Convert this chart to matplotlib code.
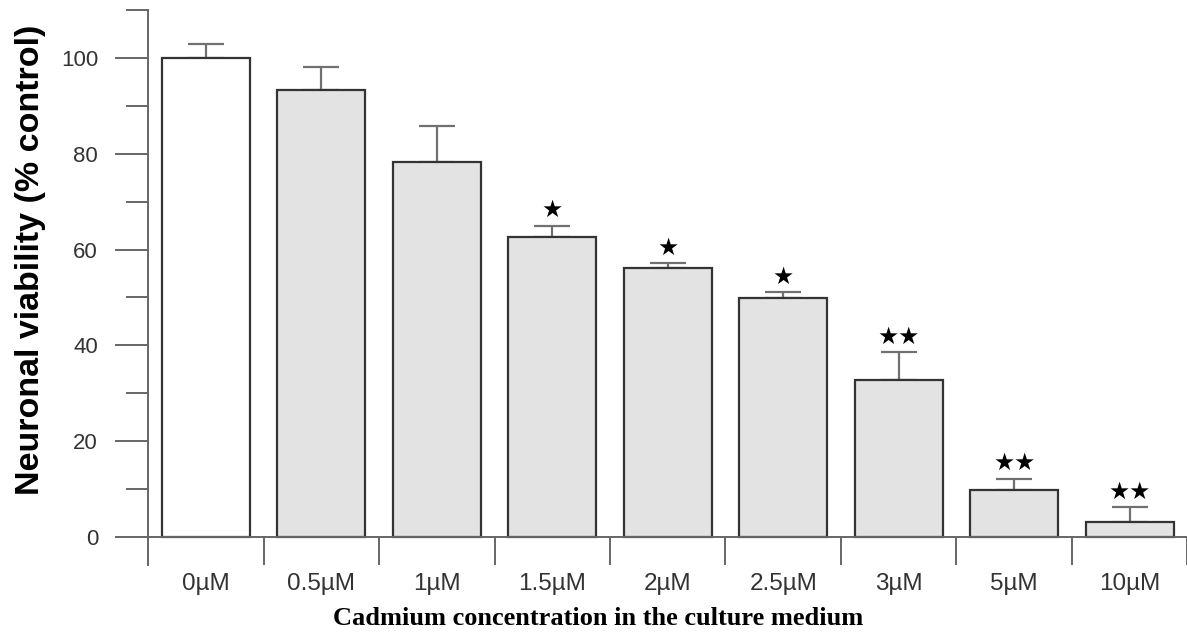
import numpy as np
import matplotlib
matplotlib.use("Agg")
import matplotlib.pyplot as plt
from matplotlib.ticker import MultipleLocator, FixedLocator

# Data
labels = ["0µM", "0.5µM", "1µM", "1.5µM", "2µM", "2.5µM", "3µM", "5µM", "10µM"]
viability = [100.0, 93.4, 78.3, 62.6, 56.1, 49.9, 32.8, 9.8, 3.2]
sem = [3.0, 4.6, 7.4, 2.4, 1.0, 1.2, 5.8, 2.4, 3.0]
stars = ["", "", "", "★", "★", "★", "★★", "★★", "★★"]
colors = ["white"] + ["#e3e3e3"] * 8

plt.rcParams["font.family"] = ["Liberation Sans", "DejaVu Sans"]

fig = plt.figure(figsize=(11.87, 6.44), dpi=100)
ax = fig.add_axes([0.1247, 0.1227, 0.8757, 0.8618])

x = np.arange(len(labels)) + 0.5
ax.bar(x, viability, width=0.76, color=colors, edgecolor="#333333",
       linewidth=1.6, zorder=2)
ax.errorbar(x, viability, yerr=[np.zeros(len(sem)), sem], fmt="none",
            ecolor="#707070", elinewidth=1.6, capsize=13, capthick=1.6, zorder=1)

for xi, v, e, s in zip(x, viability, sem, stars):
    if s:
        ax.annotate(s, (xi, v + e), xytext=(0, 11), textcoords="offset points",
                    ha="center", va="center", fontsize=17, color="black",
                    family="DejaVu Sans")

ax.set_xlim(0, len(labels))
ax.set_ylim(-5.85, 110)

# axes styling
for side in ["top", "right"]:
    ax.spines[side].set_visible(False)
ax.spines["bottom"].set_position(("data", 0))
ax.spines["bottom"].set_color("#666666")
ax.spines["left"].set_color("#666666")
ax.spines["bottom"].set_linewidth(1.4)
ax.spines["left"].set_linewidth(1.4)

ax.yaxis.set_major_locator(MultipleLocator(20))
ax.yaxis.set_minor_locator(MultipleLocator(10))
ax.tick_params(axis="y", which="major", length=24, width=1.4, color="#666666",
               labelsize=16, labelcolor="#333333", pad=12)
ax.tick_params(axis="y", which="minor", length=16, width=1.4, color="#666666")

ax.set_xticks(x)
ax.set_xticklabels(labels)
ax.xaxis.set_minor_locator(FixedLocator(np.arange(1, len(labels) + 1)))
ax.tick_params(axis="x", which="major", length=0, pad=26, labelsize=17.5,
               labelcolor="#333333")
ax.tick_params(axis="x", which="minor", length=20, width=1.4, color="#666666")

ax.set_ylabel("Neuronal viability (% control)", fontsize=24.5, fontweight="bold")
ax.yaxis.set_label_coords(-0.098, 0.55)
fig.text(0.504, 0.04, "Cadmium concentration in the culture medium",
         ha="center", va="center", fontsize=19, fontweight="bold",
         family="Liberation Serif")

fig.savefig("out.png", dpi=100)
